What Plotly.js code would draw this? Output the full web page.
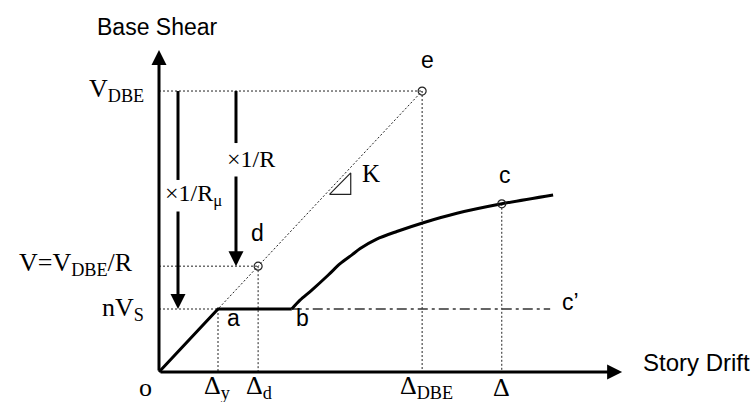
<!DOCTYPE html>
<html>
<head>
<meta charset="utf-8">
<script src="https://cdn.plot.ly/plotly-3.0.1.min.js"></script>
<style>body{margin:0;background:#fff}</style>
</head>
<body>
<div id="chart" style="width:755px;height:402px"></div>
<script>
// story drift (x) and base shear (y), scaled so the yield point a = 1
var pointLabels = ['a', 'b', 'c', 'd', 'e'];
var pointDrift = [1.00, 2.25, 5.81, 1.68, 4.46];
var pointShear = [1.00, 1.00, 2.67, 1.68, 4.46];

// hardening branch from b through c
var curveDrift = [2.25, 2.39, 2.59, 2.87, 3.07, 3.27, 3.41, 3.69, 4.03, 4.48, 5.05, 5.81, 6.68];
var curveShear = [1.00, 1.14, 1.30, 1.54, 1.72, 1.86, 1.96, 2.11, 2.23, 2.37, 2.52, 2.67, 2.81];

var driftTicks = [0, 1.00, 1.68, 4.46, 5.81];
var driftTickLabels = ['o', 'Δ<sub>y</sub>', 'Δ<sub>d</sub>', 'Δ<sub>DBE</sub>', 'Δ'];
var shearTicks = [4.46, 1.68, 1.00];
var shearTickLabels = ['V<sub>DBE</sub>', 'V=V<sub>DBE</sub>/R', 'nV<sub>S</sub>'];

var axisMax = [7.85, 5.11];   // drift, shear at arrow tips
var cPrimeDrift = 6.63;

var serif = 'Liberation Serif, DejaVu Serif, serif';
var sans = 'Liberation Sans, Arial, sans-serif';

function pt(name) {
    var i = pointLabels.indexOf(name);
    return {x: pointDrift[i], y: pointShear[i]};
}
var a = pt('a'), b = pt('b'), c = pt('c'), d = pt('d'), e = pt('e');

// dotted guide lines, segments split by null
var gx = [0, e.x, null, 0, d.x, null, 0, a.x, null, a.x, a.x, null, d.x, d.x, null, e.x, e.x, null, c.x, c.x];
var gy = [e.y, e.y, null, d.y, d.y, null, a.y, a.y, null, a.y, 0, null, d.y, 0, null, e.y, 0, null, c.y, 0];

// reduction arrows: x position, bottom level, label gap (fractions of length), label
var arrowX = [1.305, 0.322];
var arrowBottom = [d.y, a.y];
var arrowGap = [[0.297, 0.479], [0.408, 0.546]];
var arrowText = ['×1/R', '×1/R<sub>μ</sub>'];

var traces = [
    {x: gx, y: gy, mode: 'lines', line: {color: '#222', width: 1, dash: '2px,2px'}},
    {x: [0, e.x], y: [0, e.y], mode: 'lines', line: {color: '#222', width: 1, dash: '2px,2px'}},
    {x: [b.x, cPrimeDrift], y: [b.y, b.y], mode: 'lines', line: {color: '#333', width: 1.3, dash: '10px,4px,3px,4px'}},
    {x: [0, a.x, b.x], y: [0, a.y, b.y], mode: 'lines', line: {color: '#000', width: 3}},
    {x: curveDrift, y: curveShear, mode: 'lines', line: {color: '#000', width: 3, shape: 'spline', smoothing: 0.8}},
    // stiffness triangle beside the elastic line
    {x: [2.89, 3.25, 3.25, 2.89], y: [2.82, 2.82, 3.16, 2.82], mode: 'lines', line: {color: '#222', width: 1.2}},
    {x: [c.x, d.x, e.x], y: [c.y, d.y, e.y], mode: 'markers',
     marker: {symbol: 'circle-open', size: 8, color: '#222', line: {width: 1.2}}}
];

var ann = [];
function arrow(x0, y0, x1, y1, w) {
    ann.push({x: x1, y: y1, ax: x0, ay: y0, xref: 'x', yref: 'y', axref: 'x', ayref: 'y',
        text: '', showarrow: true, arrowhead: 2, arrowsize: 1, arrowwidth: w, arrowcolor: '#000', standoff: 0});
}
function label(text, x, y, dx, dy, font, size, xanchor) {
    ann.push({x: x, y: y, xref: 'x', yref: 'y', text: text, showarrow: false,
        xshift: dx, yshift: dy, xanchor: xanchor || 'center', yanchor: 'middle',
        font: {family: font, size: size, color: '#000'}});
}

arrow(0, 0, 0, axisMax[1], 3);
arrow(0, 0, axisMax[0], 0, 3);

arrowX.forEach(function(x, i) {
    var top = e.y, span = e.y - arrowBottom[i];
    var g0 = top - span * arrowGap[i][0], g1 = top - span * arrowGap[i][1];
    traces.push({x: [x, x], y: [top, g0], mode: 'lines', line: {color: '#000', width: 3}});
    arrow(x, g1, x, arrowBottom[i], 3);
    label(arrowText[i], x, (g0 + g1) / 2, 15, 0, serif, 24);
});

pointLabels.forEach(function(n, i) {
    var off = {a: [15, -9], b: [11, -9], c: [3, 29], d: [-1, 33], e: [5, 31]}[n];
    label(n, pointDrift[i], pointShear[i], off[0], off[1], sans, 23);
});
label('c’', cPrimeDrift, b.y, 20, 7, sans, 23);
label('K', 3.25, 3.16, 20, -1, serif, 25);

driftTicks.forEach(function(x, i) {
    var dx = [-14, -1, 1, 4, 0][i];
    label(driftTickLabels[i], x, 0, dx, -15, serif, 26);
});
shearTicks.forEach(function(y, i) {
    label(shearTickLabels[i], 0, y, i === 1 ? -24 : -13, [1, 2, 0][i], serif, 26, 'right');
});

label('Base Shear', 0, axisMax[1], -2, 23, sans, 23);
label('Story Drift', axisMax[0], 0, 19, 10, sans, 24, 'left');

var layout = {
    width: 755, height: 402,
    margin: {l: 0, r: 0, t: 0, b: 0},
    showlegend: false,
    paper_bgcolor: '#fff', plot_bgcolor: '#fff',
    xaxis: {range: [-2.695, 10.102], visible: false, fixedrange: true},
    yaxis: {range: [-0.476, 5.905], visible: false, fixedrange: true},
    annotations: ann
};

Plotly.newPlot('chart', traces, layout, {staticPlot: true});
</script>
</body>
</html>
